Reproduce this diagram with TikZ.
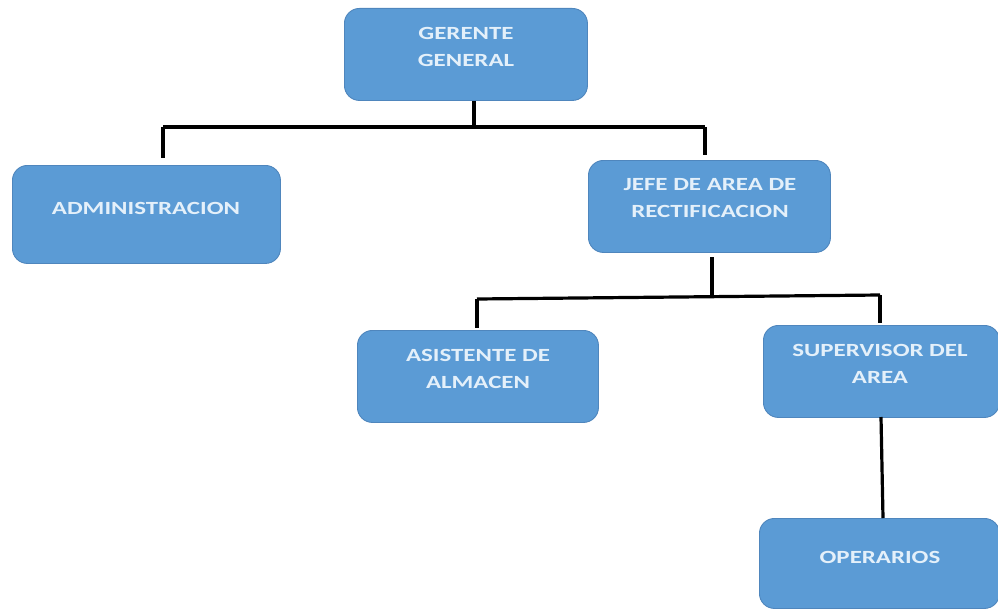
\documentclass[tikz,border=0pt]{standalone}
\usepackage{fontspec}
\setmainfont{Carlito}[FakeStretch=1.34]
\begin{document}
\begin{tikzpicture}[x=1pt,y=-1pt,
  box/.style={draw=boxedge,line width=0.9pt,fill=boxfill,rounded corners=15pt,
              inner sep=0pt,anchor=north west},
  lbl/.style={text=boxtext,font=\fontsize{18.6}{27}\selectfont\bfseries,align=center,inner sep=0pt},
  link/.style={line width=3.2pt,black}]
\definecolor{boxfill}{HTML}{5B9BD5}
\definecolor{boxedge}{HTML}{4F86BD}
\definecolor{boxtext}{HTML}{E4F0FA}
\useasboundingbox (0,0) rectangle (998,610);

% boxes
\node[box,minimum width=243pt,minimum height=92pt] (gg) at (344,8) {};
\node[box,minimum width=268pt,minimum height=98pt] (adm) at (12,165) {};
\node[box,minimum width=242pt,minimum height=92pt] (jefe) at (588,160) {};
\node[box,minimum width=241pt,minimum height=92pt] (asis) at (357,330) {};
\node[box,minimum width=236pt,minimum height=92pt] (sup) at (763,325) {};
\node[box,minimum width=240pt,minimum height=90pt] (ope) at (759,518) {};

% labels
\node[lbl] (ggt) at (466,46.5) {GERENTE\\GENERAL};
\node[lbl] (admt) at (146,208) {ADMINISTRACION};
\node[lbl] (jefet) at (710,198) {JEFE DE AREA DE\\RECTIFICACION};
\node[lbl] (asist) at (478,368.5) {ASISTENTE DE\\ALMACEN};
\node[lbl] (supt) at (880,363.5) {SUPERVISOR DEL\\AREA};
\node[lbl] (opet) at (880,557) {OPERARIOS};

% first level bus
\coordinate (b1) at (474,127);
\coordinate (b1l) at (163,127);
\coordinate (b1r) at (705,127);
\coordinate (d1l) at (163,158);
\coordinate (d1r) at (705,155);
\draw[link] (gg.south -| b1) -- (b1);
\draw[link] (b1l) -- (b1r);
\draw[link] (b1l) -- (d1l);
\draw[link] (b1r) -- (d1r);

% second level bus
\coordinate (t2) at (712,257);
\coordinate (b2) at (712,297);
\coordinate (b2l) at (477,299);
\coordinate (b2r) at (880,295);
\coordinate (d2l) at (477,328);
\coordinate (d2r) at (880,323);
\draw[link] (t2) -- (b2);
\draw[link] (b2l) -- (b2r);
\draw[link] (b2l) -- (d2l);
\draw[link] (b2r) -- (d2r);

% supervisor to operarios
\coordinate (t3) at (881,417);
\coordinate (d3) at (883,518);
\draw[link] (t3) -- (d3);
\end{tikzpicture}
\end{document}
